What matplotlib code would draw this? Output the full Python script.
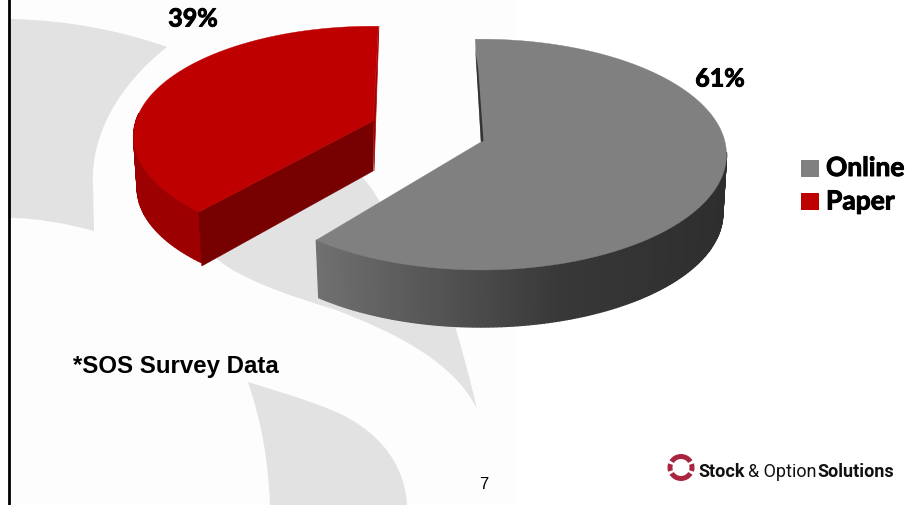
import numpy as np
import matplotlib
matplotlib.use("Agg")
import matplotlib.pyplot as plt
from matplotlib.path import Path
from matplotlib.patches import PathPatch, Polygon, Rectangle, Wedge
import matplotlib.patheffects as pe

categories = ["Online", "Paper"]
shares = [61, 39]
share_labels = ["61%", "39%"]
top_colors = ["#808080", "#bf0000"]

START_ONLINE = 91.5
START_PAPER = 88.5

fig = plt.figure(figsize=(9.07, 5.06), dpi=100)
ax = fig.add_axes([0, 0, 1, 1])
ax.set_xlim(0, 907)
ax.set_ylim(506, 0)
ax.axis("off")

# backdrop
ax.add_patch(Rectangle((10, 0), 506, 506, fc="#fdfdfd", ec="none", zorder=0))
ax.plot([9, 9], [0, 506], color="black", lw=2.0, zorder=2, solid_capstyle="butt")

M, L, C, Z = Path.MOVETO, Path.LINETO, Path.CURVE4, Path.CLOSEPOLY
swooshes = [
    ([(10, 20), (70, 21), (125, 33), (167, 48), (120, 85), (90, 135), (93, 187),
      (94, 232), (65, 224), (35, 219), (10, 219), (10, 20)],
     [M, C, C, C, C, C, C, L, C, C, C, Z]),
    ([(217, 260), (240, 280), (290, 297), (333, 310), (400, 335), (455, 365), (477, 410),
      (470, 380), (462, 350), (455, 327), (372, 190), (360, 175), (200, 200), (217, 260)],
     [M, C, C, C, C, C, C, C, C, C, L, L, L, Z]),
    ([(248, 383), (290, 396), (330, 408), (350, 420), (385, 440), (405, 470), (407, 506),
      (270, 506), (268, 460), (262, 425), (248, 383), (248, 383)],
     [M, C, C, C, C, C, C, L, C, C, C, Z]),
]
for verts, codes in swooshes:
    ax.add_patch(PathPatch(Path(verts, codes), fc="#e2e2e2", ec="none", zorder=1))


def rim(theta, cx, cy, A, B, k, drop=0.0, scale=1.0):
    t = np.radians(theta)
    c, s = np.cos(t), np.sin(t)
    w = 1 + k * s
    return np.column_stack([cx + scale * A * c / w, cy - scale * B * s / w + drop])


def wall(thetas, geo, depth, scale, color_of):
    top = rim(thetas, *geo)
    bot = rim(thetas, *geo, drop=depth, scale=scale)
    for i in range(len(thetas) - 1):
        xm = (top[i, 0] + top[i + 1, 0]) / 2
        q = [top[i], top[i + 1], bot[i + 1], bot[i]]
        col = color_of(xm)
        ax.add_patch(Polygon(q, closed=True, fc=col, ec=col, lw=1.0, zorder=3))


def gray_shade(x):
    v = np.interp(x, [317, 420, 560, 725], [0x70, 0x58, 0x38, 0x2e]) / 255
    return (v, v, v)


sweep = np.array(shares) / sum(shares) * 360

# Paper wedge (exploded up-left)
geo_red = (373, 122, 237, 108, 0.14)
th_red = np.linspace(START_PAPER, START_PAPER + sweep[1], 120)
apex = np.array([geo_red[0], geo_red[1]])
end = rim(np.array([th_red[-1]]), *geo_red)[0]
start_pt = rim(np.array([th_red[0]]), *geo_red)[0]
ax.add_patch(Polygon([apex, start_pt + [0.5, 0], apex + [1, 50]], closed=True,
                     fc="#a50000", ec="#a50000", lw=0.5, zorder=3))
vis = th_red[th_red > 175]
wall(vis, geo_red, 52, 0.985, lambda x: "#9c0000")
ax.add_patch(Polygon([apex, end, end + [3, 54], apex + [0, 50]], closed=True,
                     fc="#770000", ec="#770000", lw=0.4, zorder=3))
ax.add_patch(Polygon(np.vstack([apex, rim(th_red, *geo_red)]), closed=True,
                     fc=top_colors[1], ec=top_colors[1], lw=0.3, zorder=4))

# Online wedge
geo_gray = (481, 143, 244, 114, 0.109)
th_gray = np.linspace(START_ONLINE, START_ONLINE - sweep[0], 260)
vis = th_gray[th_gray < -5]
wall(vis, geo_gray, 59, 0.985, gray_shade)
apex = np.array([geo_gray[0], geo_gray[1]])
ax.add_patch(Polygon(np.vstack([apex, rim(th_gray, *geo_gray)]), closed=True,
                     fc=top_colors[0], ec=top_colors[0], lw=0.3, zorder=4))
first = rim(np.array([th_gray[0]]), *geo_gray)[0]
ax.add_patch(Polygon([first + [0, 10], apex, apex + [2.5, -1], first + [3, 30]], closed=True,
                     fc="#333333", ec="none", zorder=5))

# value labels
lab_kw = dict(family="Lato", fontweight="bold", fontsize=18, color="black", ha="center", va="center", zorder=6)
stroke = [pe.withStroke(linewidth=0.7, foreground="black")]
ax.text(720, 80, share_labels[0], path_effects=stroke, **lab_kw)
ax.text(193, 20, share_labels[1], path_effects=stroke, **lab_kw)

# legend
for name, col, y in zip(categories, top_colors, [169, 202.5]):
    ax.add_patch(Rectangle((801, y - 8.5), 18, 17, fc=col, ec="none", zorder=6))
    ax.text(826, y, name, family="Lato", fontweight="bold", fontsize=19, color="black",
            ha="left", va="center", path_effects=stroke, zorder=6)

ax.text(73, 373, "*SOS Survey Data", family="Liberation Sans", fontweight="bold",
        fontsize=17.25, color="black", ha="left", va="baseline", zorder=6)
ax.text(484, 489, "7", family="Liberation Sans", fontsize=12, color="black",
        ha="center", va="baseline", zorder=6)

# logo
logo = "#a8243f"
for a, b in [(32, 148), (212, 328), (162, 198), (-18, 18)]:
    ax.add_patch(Wedge((681, 468.5), 13.5, a, b, width=5, fc=logo, ec="none", zorder=6))
tk = dict(family="Roboto", fontsize=13, color="#111111", ha="left", va="baseline", zorder=6)
ax.text(698, 477, "Stock", fontweight="bold", **tk)
ax.text(748, 477, "& Option", fontweight="normal", **tk)
ax.text(817, 477, "Solutions", fontweight="bold", **tk)

fig.savefig("out.png", dpi=100)
